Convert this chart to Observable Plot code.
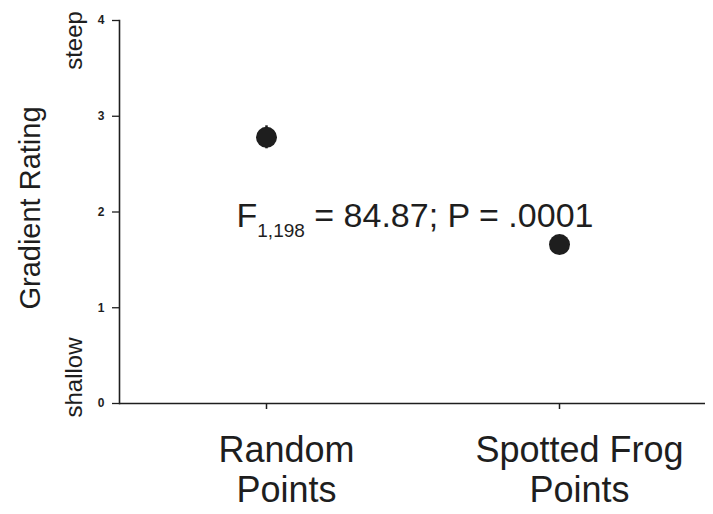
<!DOCTYPE html>
<html>
<head>
<meta charset="utf-8">
<script src="https://cdn.jsdelivr.net/npm/d3@7"></script>
<script src="https://cdn.jsdelivr.net/npm/@observablehq/plot@0.6"></script>
<style>
  html, body { margin: 0; padding: 0; background: #fff; }
  #chart { width: 713px; height: 514px; }
</style>
</head>
<body>
<div id="chart"></div>
<script>
// ---- data ----
const categories = ["Random\nPoints", "Spotted Frog\nPoints"];
const means = [2.78, 1.66];
const stdErr = [0.12, 0.08];
const yTicks = [0, 1, 2, 3, 4];
const yTitle = "Gradient Rating";
const yHigh = "steep";
const yLow = "shallow";
const statMain = "F";
const statSub = "1,198";
const statRest = " = 84.87; P = .0001";

const rows = categories.map((c, i) => ({cat: c, mean: means[i], lo: means[i] - stdErr[i], hi: means[i] + stdErr[i]}));

const ink = "#1e1e1e";
const font = "'Liberation Sans', Arial, Helvetica, sans-serif";

const chart = Plot.plot({
  width: 713,
  height: 514,
  marginLeft: 119,
  marginRight: 8,
  marginTop: 20,
  marginBottom: 111,
  style: {fontFamily: font, background: "#fff", color: ink},
  x: {type: "point", domain: categories, padding: 0.5, axis: null},
  y: {domain: [0, 4], axis: null},
  marks: [
    Plot.frame({anchor: "left", stroke: ink, strokeWidth: 1.6}),
    Plot.ruleY([0], {stroke: ink, strokeWidth: 1.6}),
    Plot.axisY({ticks: yTicks, tickFormat: d3.format("d"), tickSize: 7, tickPadding: 8, fontSize: 12, fontWeight: "bold", label: null, stroke: ink, strokeWidth: 1.3}),
    Plot.axisX({tickSize: 6, tickFormat: () => "", label: null, stroke: ink, strokeWidth: 1.5}),
    Plot.axisX({tickSize: 0, tickPadding: 30, fontSize: 36, lineHeight: 1.11, dx: 20, label: null}),
    Plot.ruleX(rows, {x: "cat", y1: "lo", y2: "hi", stroke: ink, strokeWidth: 2.5}),
    Plot.dot(rows, {x: "cat", y: "mean", r: 10.5, fill: ink, stroke: "none"}),
    Plot.text([yTitle], {frameAnchor: "left", rotate: -90, fontSize: 29, textAnchor: "middle", lineAnchor: "middle", dx: -89, dy: -4, fill: ink}),
    Plot.text([yHigh], {frameAnchor: "top-left", rotate: -90, fontSize: 24, textAnchor: "middle", lineAnchor: "middle", dx: -45, dy: 20, fill: ink}),
    Plot.text([yLow], {frameAnchor: "bottom-left", rotate: -90, fontSize: 24, textAnchor: "middle", lineAnchor: "middle", dx: -45, dy: -26, fill: ink}),
    Plot.text([statMain], {frameAnchor: "top-left", textAnchor: "start", lineAnchor: "middle", fontSize: 34, dx: 117, dy: 196, fill: ink})
  ]
});

document.getElementById("chart").appendChild(chart);

// add subscript to the statistic annotation
d3.select(chart).selectAll("text")
  .filter(function() { return this.textContent === statMain && this.getAttribute("font-size") !== "19"; })
  .each(function() {
    const t = d3.select(this);
    t.text(null);
    t.append("tspan").text(statMain);
    t.append("tspan").attr("font-size", 19).attr("dy", 10).text(statSub);
    t.append("tspan").attr("font-size", 34).attr("dy", -10).text(statRest);
  });
</script>
</body>
</html>
